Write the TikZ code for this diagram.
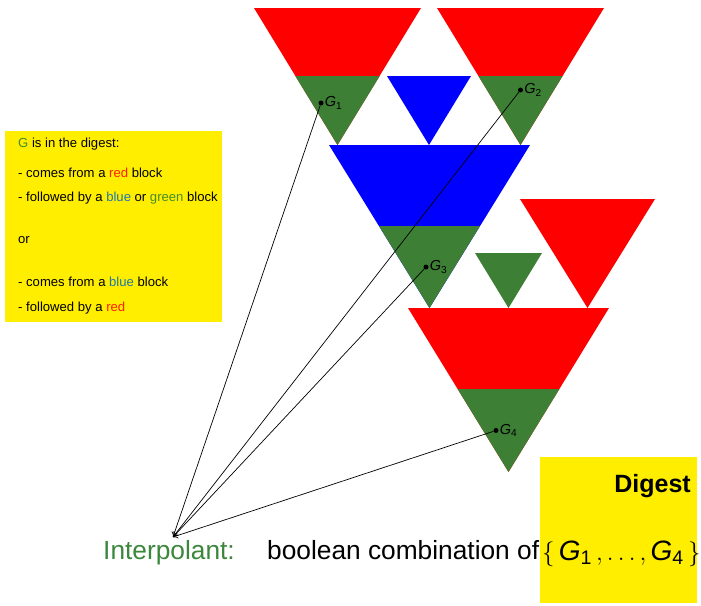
\documentclass[tikz,border=0pt]{standalone}
\usepackage{amsmath}
\usepackage{fontspec}
\setmainfont{Liberation Sans}
\usetikzlibrary{arrows.meta}

\definecolor{blockred}{RGB}{255,0,0}
\definecolor{blockgreen}{RGB}{61,127,52}
\definecolor{blockblue}{RGB}{0,0,255}
\definecolor{noteyellow}{RGB}{255,238,0}
\definecolor{txtred}{RGB}{255,30,0}
\definecolor{txtblue}{RGB}{30,120,170}
\definecolor{txtgreen}{RGB}{70,140,40}
\definecolor{interp}{RGB}{60,135,60}

\tikzset{
  gdot/.style={circle,fill=black,inner sep=0pt,minimum size=5pt},
  glabel/.style={anchor=west,inner sep=1pt,font=\fontsize{14.5}{16}\selectfont},
  link/.style={draw=black,line width=0.7pt,-{To[length=5pt,width=6pt]}},
  notebox/.style={fill=noteyellow,draw=none},
  noteline/.style={anchor=west,inner sep=0pt,font=\fontsize{13.1}{15}\selectfont},
  bigtext/.style={inner sep=0pt,font=\fontsize{26.3}{30}\selectfont}
}

\newcommand{\GG}[1]{{\itshape G}\textsubscript{#1}}

\begin{document}
\begin{tikzpicture}[x=1pt,y=-1pt]
\useasboundingbox (0,0) rectangle (701,605);

% upper left red block with green tip
\fill[blockred] (254,8) -- (421,8) -- (337.5,145) -- cycle;
\fill[blockgreen] (295.3,76) -- (379.7,76) -- (337.5,145) -- cycle;
% upper right red block with green tip
\fill[blockred] (437,8) -- (604,8) -- (520.5,145) -- cycle;
\fill[blockgreen] (478.4,76) -- (562.6,76) -- (520.5,145) -- cycle;
% small blue block between them
\fill[blockblue] (387,76) -- (471,76) -- (429,145) -- cycle;
% large blue block with green tip
\fill[blockblue] (329,145) -- (530,145) -- (429.5,308) -- cycle;
\fill[blockgreen] (379,226) -- (480,226) -- (429.5,308) -- cycle;
% right red block
\fill[blockred] (520,199) -- (655,199) -- (587.5,308) -- cycle;
% small green block
\fill[blockgreen] (475,253) -- (542,253) -- (508.5,308) -- cycle;
% bottom red block with green tip
\fill[blockred] (408,308) -- (609,308) -- (508.5,472) -- cycle;
\fill[blockgreen] (457.6,389) -- (559.4,389) -- (508.5,472) -- cycle;

% rule box on the left
\fill[notebox] (5,131) rectangle (222,322);
\node[noteline] at (18,144) {\textcolor{txtgreen}{G} is in the digest:};
\node[noteline] at (18,173) {- comes from a \textcolor{txtred}{red} block};
\node[noteline] at (18,198) {- followed by a \textcolor{txtblue}{blue} or \textcolor{txtgreen}{green} block};
\node[noteline] at (18,240) {or};
\node[noteline] at (18,282) {- comes from a \textcolor{txtblue}{blue} block};
\node[noteline] at (18,308) {- followed by a \textcolor{txtred}{red}};

% digest box
\fill[notebox] (540,457) rectangle (697,603);
\node[anchor=base east,inner sep=0pt,font=\fontsize{25}{28}\selectfont\bfseries] (digest) at (691,492) {Digest};

% marked points
\node[gdot] (g1) at (321,103) {};
\node[gdot] (g2) at (520.5,90) {};
\node[gdot] (g3) at (426,267) {};
\node[gdot] (g4) at (496,430.5) {};
\node[glabel] at (g1.east) {\GG{1}};
\node[glabel] at (g2.east) {\GG{2}};
\node[glabel] at (g3.east) {\GG{3}};
\node[glabel] at (g4.east) {\GG{4}};

% interpolant line
\coordinate (tip) at (173,537);
\node[bigtext,anchor=base west,text=interp] (interpolant) at (103,559) {Interpolant:};
\node[bigtext,anchor=base west] (combo) at (267,559) {boolean combination of};
\node[inner sep=0pt,anchor=base west,font=\fontsize{28}{32}\selectfont] (set) at (542,560)
  {$\{\,\text{\itshape G}_{\text{1}}\,, \ldots, \text{\itshape G}_{\text{4}}\,\}$};

\draw[link] (g1) -- (tip);
\draw[link] (g2) -- (tip);
\draw[link] (g3) -- (tip);
\draw[link] (g4) -- (tip);
\end{tikzpicture}
\end{document}
